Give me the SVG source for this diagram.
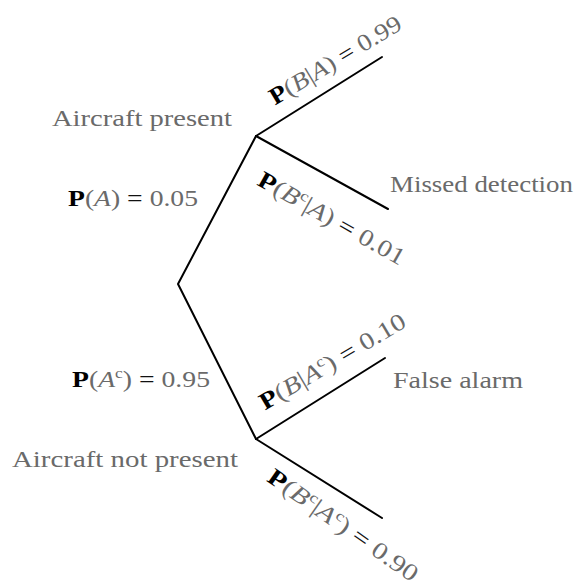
<svg xmlns="http://www.w3.org/2000/svg" width="579" height="584" viewBox="0 0 579 584">
<style>
text{font-family:"Liberation Serif","DejaVu Serif",serif;font-size:24px;fill:#6a6a6a}
.b{font-weight:bold;fill:#000}
.i{font-style:italic}
.eq{fill:#111}
.sup{font-size:15px}
.edge{stroke:#000;stroke-width:2;fill:none;stroke-linecap:round;stroke-linejoin:round}
</style>
<rect width="579" height="584" fill="#fff"/>
<g id="connectors">
<polyline class="edge" points="256,136 178,284 256,439"/>
<line class="edge" x1="256" y1="136" x2="382" y2="57"/>
<line class="edge" x1="256" y1="136" x2="388" y2="209"/>
<line class="edge" x1="256" y1="439" x2="385" y2="358"/>
<line class="edge" x1="256" y1="439" x2="382" y2="518"/>
</g>
<g id="node-root"></g>
<g id="node-aircraft-present">
<text x="52" y="126" textLength="180" lengthAdjust="spacingAndGlyphs">Aircraft present</text>
<text x="68" y="206" textLength="130" lengthAdjust="spacingAndGlyphs"><tspan class="b">P</tspan>(<tspan class="i">A</tspan>) <tspan class="eq">=</tspan> 0.05</text>
</g>
<g id="node-aircraft-not-present">
<text x="12" y="467" textLength="226" lengthAdjust="spacingAndGlyphs">Aircraft not present</text>
<text x="72" y="387" textLength="138" lengthAdjust="spacingAndGlyphs"><tspan class="b">P</tspan>(<tspan class="i">A</tspan><tspan class="sup" dy="-9">c</tspan><tspan dy="9">)</tspan> <tspan class="eq">=</tspan> 0.95</text>
</g>
<g id="leaf-missed-detection">
<text x="390" y="192" textLength="183" lengthAdjust="spacingAndGlyphs">Missed detection</text>
</g>
<g id="leaf-false-alarm">
<text x="393" y="388" textLength="130" lengthAdjust="spacingAndGlyphs">False alarm</text>
</g>
<g id="edge-labels">
<text transform="translate(275,105.5) rotate(-31)" textLength="150" lengthAdjust="spacingAndGlyphs"><tspan class="b">P</tspan>(<tspan class="i">B</tspan>|<tspan class="i">A</tspan>) <tspan class="eq">=</tspan> 0.99</text>
<text transform="translate(256,184.6) rotate(29.5)" textLength="165" lengthAdjust="spacingAndGlyphs"><tspan class="b">P</tspan>(<tspan class="i">B</tspan><tspan class="sup" dy="-9">c</tspan><tspan dy="9">|</tspan><tspan class="i">A</tspan>) <tspan class="eq">=</tspan> 0.01</text>
<text transform="translate(265,410.5) rotate(-30.6)" textLength="166" lengthAdjust="spacingAndGlyphs"><tspan class="b">P</tspan>(<tspan class="i">B</tspan>|<tspan class="i">A</tspan><tspan class="sup" dy="-9">c</tspan><tspan dy="9">)</tspan> <tspan class="eq">=</tspan> 0.10</text>
<text transform="translate(265.7,480.6) rotate(35)" textLength="178" lengthAdjust="spacingAndGlyphs"><tspan class="b">P</tspan>(<tspan class="i">B</tspan><tspan class="sup" dy="-9">c</tspan><tspan dy="9">|</tspan><tspan class="i">A</tspan><tspan class="sup" dy="-9">c</tspan><tspan dy="9">)</tspan> <tspan class="eq">=</tspan> 0.90</text>
</g>
</svg>
